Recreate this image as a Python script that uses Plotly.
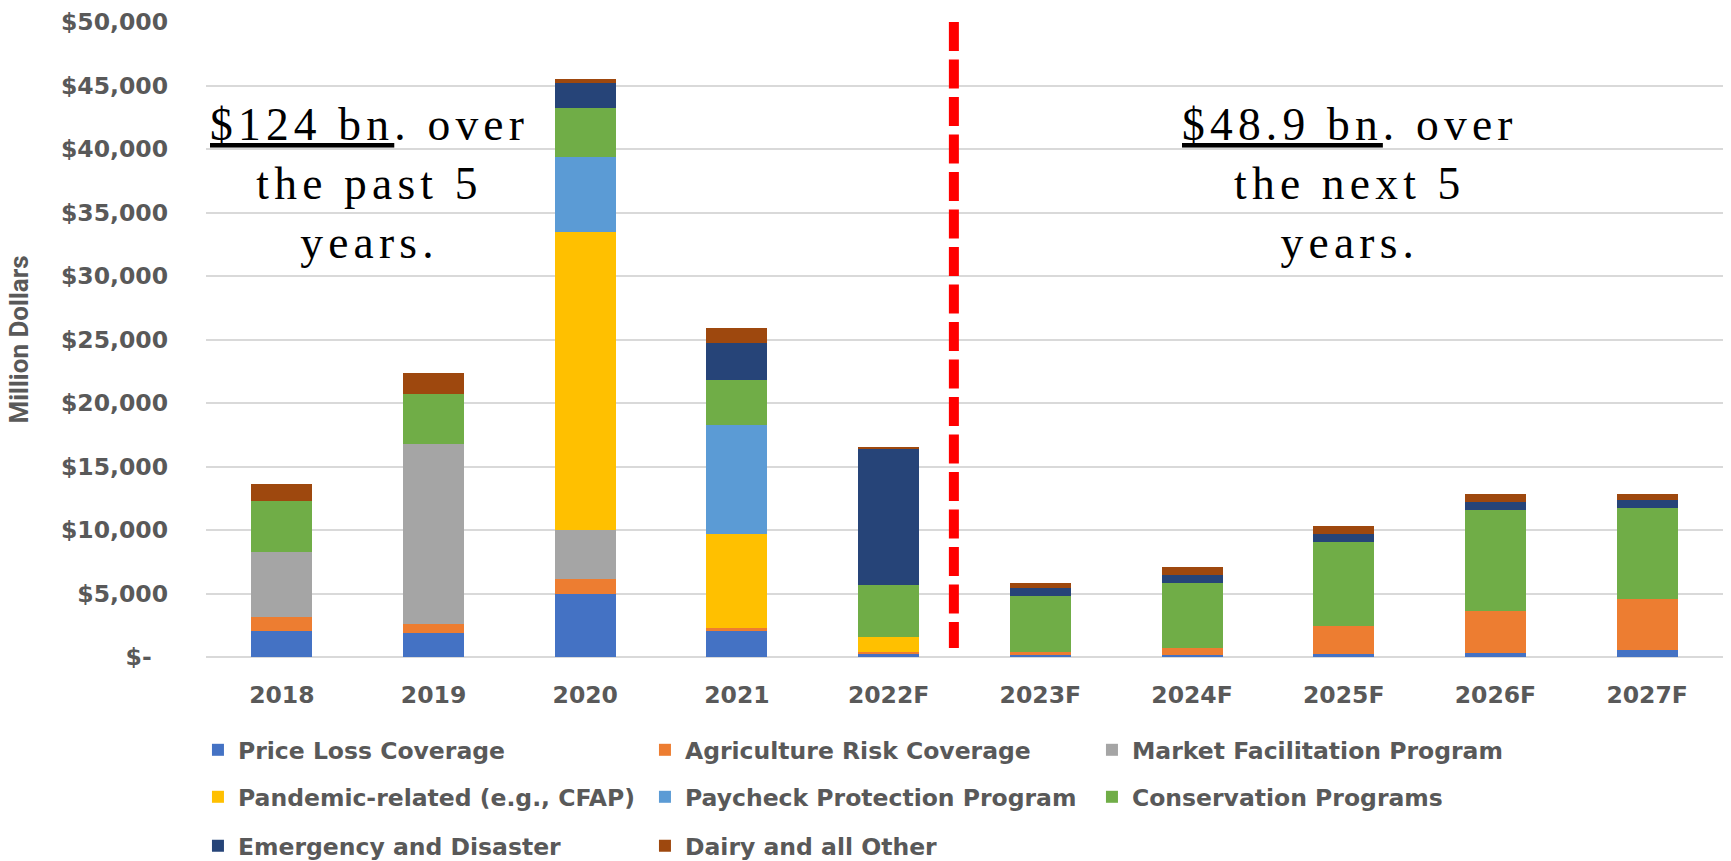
import plotly.graph_objects as go

years = ["2018", "2019", "2020", "2021", "2022F", "2023F", "2024F", "2025F", "2026F", "2027F"]

price_loss_coverage = [2050, 1900, 4950, 2050, 270, 160, 160, 260, 340, 580]
agriculture_risk_coverage = [1120, 700, 1200, 200, 100, 240, 520, 2160, 3320, 3950]
market_facilitation = [5130, 14200, 3850, 0, 0, 0, 0, 0, 0, 0]
pandemic_related = [0, 0, 23500, 7450, 1180, 0, 0, 0, 0, 0]
paycheck_protection = [0, 0, 5900, 8600, 0, 0, 0, 0, 0, 0]
conservation = [4000, 3900, 3800, 3500, 4150, 4400, 5170, 6630, 7940, 7180]
emergency_disaster = [0, 0, 2000, 2900, 10700, 670, 620, 650, 640, 640]
dairy_other = [1350, 1700, 300, 1200, 100, 330, 580, 640, 560, 500]

series_names = [
    "Price Loss Coverage", "Agriculture Risk Coverage", "Market Facilitation Program",
    "Pandemic-related (e.g., CFAP)", "Paycheck Protection Program", "Conservation Programs",
    "Emergency and Disaster", "Dairy and all Other",
]
series_values = [
    price_loss_coverage, agriculture_risk_coverage, market_facilitation,
    pandemic_related, paycheck_protection, conservation,
    emergency_disaster, dairy_other,
]
series_colors = ["#4472C4", "#ED7D31", "#A5A5A5", "#FFC000", "#5B9BD5", "#70AD47", "#264478", "#9E480E"]
legend_rows = ["legend", "legend", "legend", "legend2", "legend2", "legend2", "legend3", "legend3"]

y_tick_vals = [0, 5000, 10000, 15000, 20000, 25000, 30000, 35000, 40000, 45000, 50000]
y_tick_text = ["$-\u00a0\u00a0", "$5,000", "$10,000", "$15,000", "$20,000", "$25,000",
               "$30,000", "$35,000", "$40,000", "$45,000", "$50,000"]

past_label_lines = ["<u>$124 bn</u>. over", "the past 5", "years."]
next_label_lines = ["<u>$48.9 bn</u>. over", "the next 5", "years."]

GRAY = "#595959"
TXT = dict(family="DejaVu Sans", size=23.5, color=GRAY, weight="bold")

fig = go.Figure()
for name, vals, col, lg in zip(series_names, series_values, series_colors, legend_rows):
    fig.add_trace(go.Bar(x=years, y=vals, name=name, marker=dict(color=col, line=dict(width=0)),
                         legend=lg))

def spaced(lines):
    return "<br>".join('<span style="letter-spacing:5.2px">' + s + "</span>" for s in lines)

ann_font = dict(family="Liberation Serif", size=45.5, color="black", weight="normal")
fig.add_annotation(x=0.58, y=37300, xref="x", yref="y", text=spaced(past_label_lines),
                   showarrow=False, align="center", xanchor="center", yanchor="middle", font=ann_font)
fig.add_annotation(x=7.04, y=37300, xref="x", yref="y", text=spaced(next_label_lines),
                   showarrow=False, align="center", xanchor="center", yanchor="middle", font=ann_font)

fig.add_shape(type="line", xref="x", yref="y", x0=4.43, x1=4.43, y0=50000, y1=700,
              line=dict(color="#FF0000", width=10, dash="29px,8.5px"))

leg = dict(orientation="h", xanchor="left", x=-0.0053, yanchor="middle", traceorder="normal",
           entrywidth=402, entrywidthmode="pixels", font=TXT, bgcolor="rgba(0,0,0,0)",
           itemwidth=30)

fig.update_layout(
    width=1731, height=861,
    margin=dict(l=206, r=8, t=22, b=204, autoexpand=False),
    barmode="stack", bargap=0.598,
    plot_bgcolor="white", paper_bgcolor="white",
    font=TXT,
    legend=dict(leg, y=-0.1465),
    legend2=dict(leg, y=-0.2205),
    legend3=dict(leg, y=-0.2976),
    xaxis=dict(type="category", range=[-0.5, 9.5], showgrid=False, showline=False,
               tickfont=TXT, ticks="", ticklabelstandoff=21),
    yaxis=dict(range=[0, 50000], tickvals=y_tick_vals, ticktext=y_tick_text, tickfont=TXT,
               showgrid=True, gridcolor="#d9d9d9", gridwidth=1.5,
               zeroline=True, zerolinecolor="#d9d9d9", zerolinewidth=1.5,
               ticks="", ticklabelstandoff=37, showline=False,
               title=dict(text="Million Dollars", standoff=24,
                          font=dict(family="Roboto", size=26, color=GRAY, weight="bold"))),
)

fig.write_html("out.html", config={"displayModeBar": False},
               post_script="document.body.style.margin='0';document.body.style.overflow='hidden';")
